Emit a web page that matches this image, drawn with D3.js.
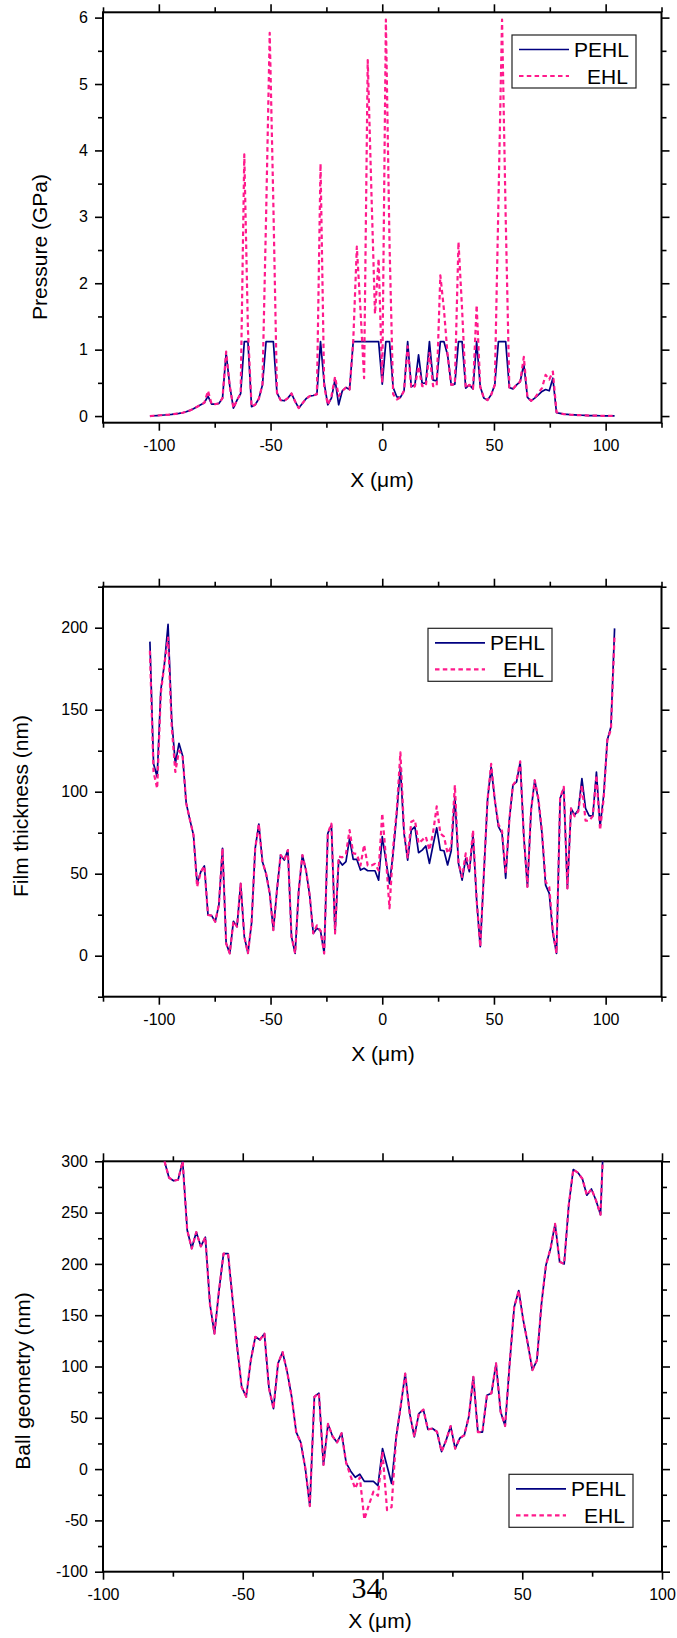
<!DOCTYPE html>
<html>
<head>
<meta charset="utf-8">
<title>PEHL vs EHL profiles</title>
<script src="https://d3js.org/d3.v7.min.js"></script>
<style>
  body { margin: 0; background: #fff; }
  svg text { fill: #000; }
  .sans { font-family: "Liberation Sans", Arial, sans-serif; }
  .serif { font-family: "Liberation Serif", "Times New Roman", "DejaVu Serif", serif; }
</style>
</head>
<body>
<svg id="fig" width="677" height="1638"></svg>
<script>
// x positions (um), shared by all three panels
const xGrid = [
  -104, -102.375, -100.75, -99.125, -97.5, -95.875, -94.25, -92.625, -91, -89.375,
  -87.75, -86.125, -84.5, -82.875, -81.25, -79.625, -78, -76.375, -74.75, -73.125,
  -71.5, -69.875, -68.25, -66.625, -65, -63.375, -61.75, -60.125, -58.5, -56.875,
  -55.25, -53.625, -52, -50.375, -48.75, -47.125, -45.5, -43.875, -42.25, -40.625,
  -39, -37.375, -35.75, -34.125, -32.5, -30.875, -29.25, -27.625, -26, -24.375,
  -22.75, -21.125, -19.5, -17.875, -16.25, -14.625, -13, -11.375, -9.75, -8.125,
  -6.5, -4.875, -3.25, -1.625, 0, 1.625, 3.25, 4.875, 6.5, 8.125,
  9.75, 11.375, 13, 14.625, 16.25, 17.875, 19.5, 21.125, 22.75, 24.375,
  26, 27.625, 29.25, 30.875, 32.5, 34.125, 35.75, 37.375, 39, 40.625,
  42.25, 43.875, 45.5, 47.125, 48.75, 50.375, 52, 53.625, 55.25, 56.875,
  58.5, 60.125, 61.75, 63.375, 65, 66.625, 68.25, 69.875, 71.5, 73.125,
  74.75, 76.375, 78, 79.625, 81.25, 82.875, 84.5, 86.125, 87.75, 89.375,
  91, 92.625, 94.25, 95.875, 97.5, 99.125, 100.75, 102.375, 104
];

// pressure (GPa)
const pressurePEHL = [
  0.000, 0.005, 0.008, 0.012, 0.016, 0.020, 0.025, 0.032, 0.040, 0.050,
  0.065, 0.085, 0.110, 0.140, 0.170, 0.200, 0.300, 0.180, 0.180, 0.190,
  0.270, 0.950, 0.450, 0.120, 0.240, 0.340, 1.120, 1.120, 0.140, 0.170,
  0.260, 0.470, 1.120, 1.120, 1.120, 0.350, 0.240, 0.230, 0.270, 0.340,
  0.220, 0.120, 0.190, 0.260, 0.300, 0.310, 0.330, 1.120, 0.500, 0.170,
  0.270, 0.550, 0.170, 0.380, 0.430, 0.400, 1.120, 1.120, 1.120, 1.120,
  1.120, 1.120, 1.120, 1.120, 0.480, 1.120, 1.120, 0.430, 0.290, 0.280,
  0.380, 1.120, 0.440, 0.470, 0.920, 0.490, 0.500, 1.120, 0.540, 0.530,
  1.120, 1.120, 0.920, 0.470, 0.480, 1.120, 1.120, 0.420, 0.470, 0.410,
  1.120, 0.440, 0.270, 0.240, 0.320, 0.470, 1.120, 1.120, 1.120, 0.430,
  0.410, 0.470, 0.520, 0.780, 0.280, 0.230, 0.270, 0.320, 0.370, 0.400,
  0.380, 0.570, 0.050, 0.040, 0.030, 0.025, 0.020, 0.017, 0.014, 0.012,
  0.010, 0.008, 0.007, 0.006, 0.005, 0.004, 0.003, 0.003, 0.003
];
const pressureEHL = [
  0.000, 0.005, 0.008, 0.012, 0.016, 0.020, 0.025, 0.032, 0.040, 0.050,
  0.065, 0.085, 0.110, 0.140, 0.170, 0.200, 0.380, 0.180, 0.180, 0.190,
  0.270, 0.970, 0.450, 0.120, 0.240, 0.340, 3.940, 1.300, 0.140, 0.170,
  0.260, 0.470, 3.000, 5.770, 3.200, 0.350, 0.240, 0.230, 0.270, 0.340,
  0.220, 0.120, 0.190, 0.260, 0.300, 0.310, 0.330, 3.800, 0.450, 0.170,
  0.300, 0.590, 0.300, 0.380, 0.430, 0.400, 1.120, 2.550, 1.600, 0.570,
  5.360, 3.400, 1.540, 2.370, 0.500, 5.970, 2.600, 0.330, 0.250, 0.280,
  0.380, 1.050, 0.420, 0.450, 0.750, 0.450, 0.450, 0.950, 0.450, 0.450,
  2.120, 1.600, 0.920, 0.470, 0.480, 2.620, 1.600, 0.420, 0.470, 0.410,
  1.670, 0.440, 0.270, 0.240, 0.320, 0.470, 3.200, 5.970, 3.000, 0.430,
  0.410, 0.470, 0.520, 0.890, 0.280, 0.230, 0.270, 0.350, 0.420, 0.620,
  0.550, 0.670, 0.060, 0.040, 0.030, 0.025, 0.020, 0.017, 0.014, 0.012,
  0.010, 0.008, 0.007, 0.006, 0.005, 0.004, 0.003, 0.003, 0.003
];

// film thickness (nm)
const filmPEHL = [
  191.5, 117, 109, 162, 178, 202, 144, 117, 129.5, 122,
  93, 83, 73.6, 44, 51, 54.7, 24.8, 24.4, 20.7, 31,
  65.5, 7.5, 1.4, 21, 17.7, 44, 11.6, 1.5, 19.8, 65.5,
  80.3, 57.3, 50, 38, 15.6, 40, 61.4, 58.3, 64.4, 11.6,
  1.4, 40, 61.4, 52, 37, 13.6, 16.7, 15.2, 1.4, 74.6,
  79.7, 13.6, 58.3, 55.3, 57.3, 71.5, 58.7, 58.7, 52.2, 53.3,
  51.8, 51.8, 51.8, 46.1, 72.6, 58.3, 44, 62.4, 86.8, 115,
  74.6, 58.3, 76.6, 78.7, 62.8, 64.4, 66.9, 56.3, 67.5, 78,
  64.4, 64, 55.3, 64, 97, 56.3, 46.1, 59.3, 51.2, 73.6,
  34, 5.5, 50.2, 95, 115, 95, 78.7, 74.6, 47.2, 82.7,
  104, 106, 118, 72.6, 42, 88.8, 107, 95, 74.6, 43,
  38, 13.6, 1.4, 96, 102, 41, 89.8, 85.8, 88.8, 108,
  89.8, 85.2, 85.2, 112, 78.7, 98, 131.5, 139.6, 199.6
];
const filmEHL = [
  186, 112, 102, 160, 178, 194, 140, 112, 125, 122,
  93, 83, 73.6, 42, 51, 54.7, 24.8, 24.4, 20.7, 31,
  65.5, 7.5, 1.4, 21, 17.7, 44, 11.6, 1.5, 19.8, 65.5,
  80.3, 57.3, 50, 38, 15.6, 40, 61.4, 58.3, 64.4, 11.6,
  1.4, 40, 61.4, 52, 37, 13.6, 18.5, 15.2, 1.4, 74.6,
  80.5, 13.6, 60.4, 60, 62, 76.6, 62.4, 62, 55, 67.5,
  55, 55, 56, 52, 86.8, 60, 28.9, 66, 88.8, 124,
  76, 60, 81.7, 82.7, 68.5, 70.5, 72.6, 64.4, 75, 91,
  74.6, 72.6, 62.4, 66.5, 104, 57, 48, 62.4, 52, 76.6,
  34, 5.5, 50.2, 95, 117, 95, 80, 76, 50, 82.7,
  104, 107, 118.5, 72.6, 42, 88.8, 107, 96, 76, 45,
  42, 15, 1.4, 96, 103, 41, 89.8, 85, 88, 104,
  82.3, 82.3, 85.2, 110, 76.6, 96, 131.5, 138, 196
];

// ball geometry (nm), points 16..113 of xGrid
const ballX = xGrid.slice(16, 114);
const ballPEHL = [
  300, 284, 281, 282, 300, 233, 215, 231, 217, 226,
  161, 132, 174, 210, 210, 165, 119, 80, 70.5, 106,
  129, 126, 132, 79, 59, 103, 114, 95, 70.5, 36,
  26, 1, -36, 70.5, 74, 4, 44, 32, 26, 35,
  6, -2, -8, -5, -12, -12, -12, -16, 20, 3,
  -14, 31, 61, 93, 54, 31.5, 54, 58, 38.7, 39.6,
  36.4, 17, 28, 42, 20, 30, 33, 51, 90, 36,
  36, 72, 74, 103, 56, 42, 103, 158, 174, 145,
  122, 96.5, 106, 161, 199, 215, 239, 202, 200, 257,
  292, 289, 283, 267, 273, 262, 248, 360
];
const ballEHL = [
  300, 284, 281, 282, 300, 233, 215, 231, 217, 226,
  161, 132, 174, 210, 210, 165, 119, 80, 70.5, 106,
  129, 126, 132, 79, 59, 103, 114, 95, 70.5, 36,
  26, 1, -36, 70.5, 74, 4, 44, 32, 26, 35,
  6, -7, -19, -8, -49, -35, -22, -26, 17, -40,
  -37, 31, 61, 93, 54, 31.5, 54, 58, 38.7, 39.6,
  36.4, 17, 28, 42, 20, 30, 33, 51, 90, 36,
  36, 72, 74, 103, 56, 42, 103, 158, 174, 145,
  122, 96.5, 106, 161, 199, 215, 239, 202, 200, 257,
  292, 289, 283, 267, 273, 262, 248, 360
];

// tick values
const xMajorWide = [-100, -50, 0, 50, 100];
const xMinorWide = [-125, -75, -25, 25, 75, 125];
const pressureTicks = [0, 1, 2, 3, 4, 5, 6];
const pressureMinor = [0.5, 1.5, 2.5, 3.5, 4.5, 5.5];
const filmTicks = [0, 50, 100, 150, 200];
const filmMinor = [-25, 25, 75, 125, 175, 225];
const ballXTicks = [-100, -50, 0, 50, 100];
const ballXMinor = [-75, -25, 25, 75];
const ballTicks = [-100, -50, 0, 50, 100, 150, 200, 250, 300];
const ballMinor = [-75, -25, 25, 75, 125, 175, 225, 275];

const seriesNames = ["PEHL", "EHL"];
const navy = "#000080";
const pink = "#ff1a8c";

const svg = d3.select("#fig");

function makeAxis(side, scale) {
  if (side === "bottom") return d3.axisBottom(scale);
  if (side === "top") return d3.axisTop(scale);
  if (side === "left") return d3.axisLeft(scale);
  return d3.axisRight(scale);
}

function drawPanel(p, idx) {
  const g = svg.append("g").attr("class", "sans");
  const x = d3.scaleLinear().domain(p.xDomain).range([p.left, p.right]);
  const y = d3.scaleLinear().domain(p.yDomain).range([p.bottom, p.top]);

  // ticks on all four sides, pointing outward
  const sides = [
    ["bottom", x, p.bottom, p.xMajor, p.xMinor, true],
    ["top", x, p.top, p.xMajor, p.xMinor, false],
    ["left", y, p.left, p.yMajor, p.yMinor, true],
    ["right", y, p.right, p.yMajor, p.yMinor, false]
  ];
  sides.forEach(function(s) {
    const horiz = s[0] === "bottom" || s[0] === "top";
    const tr = horiz ? "translate(0," + s[2] + ")" : "translate(" + s[2] + ",0)";
    const minor = makeAxis(s[0], s[1]).tickValues(s[4]).tickSize(5).tickSizeOuter(0).tickFormat("");
    const major = makeAxis(s[0], s[1]).tickValues(s[3]).tickSize(8).tickSizeOuter(0)
      .tickPadding(horiz ? 9 : 7)
      .tickFormat(s[5] ? function(d) { return String(d); } : "");
    [minor, major].forEach(function(ax) {
      const a = g.append("g").attr("transform", tr).call(ax);
      a.attr("font-family", null).attr("font-size", null);
      a.select(".domain").remove();
      a.selectAll(".tick line").attr("stroke", "#000").attr("stroke-width", 1.6);
      a.selectAll(".tick text").style("font-size", "16px").attr("fill", "#000");
    });
  });

  // frame
  g.append("rect")
    .attr("x", p.left).attr("y", p.top)
    .attr("width", p.right - p.left).attr("height", p.bottom - p.top)
    .attr("fill", "none").attr("stroke", "#000").attr("stroke-width", 2);

  // clip region for the curves
  const clipId = "clip" + idx;
  svg.append("clipPath").attr("id", clipId).append("rect")
    .attr("x", p.left).attr("y", p.top)
    .attr("width", p.right - p.left).attr("height", p.bottom - p.top);

  const line = d3.line().x(function(d) { return x(d[0]); }).y(function(d) { return y(d[1]); });
  const curves = g.append("g").attr("clip-path", "url(#" + clipId + ")");
  curves.append("path").datum(d3.zip(p.xs, p.pehl))
    .attr("d", line).attr("fill", "none").attr("stroke", navy).attr("stroke-width", 1.7)
    .attr("stroke-linejoin", "round");
  curves.append("path").datum(d3.zip(p.xs, p.ehl))
    .attr("d", line).attr("fill", "none").attr("stroke", pink).attr("stroke-width", 2.2)
    .attr("stroke-dasharray", "4.5,3.3").attr("stroke-linejoin", "round");

  // axis titles
  g.append("text").attr("x", p.xTitle[0]).attr("y", p.xTitle[1])
    .attr("text-anchor", "middle").style("font-size", "21px").text("X (\u03bcm)");
  g.append("text")
    .attr("transform", "translate(" + p.yTitle[0] + "," + p.yTitle[1] + ") rotate(-90)")
    .attr("text-anchor", "middle").style("font-size", "21px").text(p.yLabel);

  // legend
  const lg = g.append("g").attr("transform", "translate(" + p.legend[0] + "," + p.legend[1] + ")");
  lg.append("rect").attr("x", 0).attr("y", 0).attr("width", 124).attr("height", 53)
    .attr("fill", "#fff").attr("stroke", "#222").attr("stroke-width", 1.2);
  lg.append("line").attr("x1", 7).attr("x2", 57).attr("y1", 14.5).attr("y2", 14.5)
    .attr("stroke", navy).attr("stroke-width", 1.7);
  lg.append("line").attr("x1", 7).attr("x2", 57).attr("y1", 41).attr("y2", 41)
    .attr("stroke", pink).attr("stroke-width", 2.2).attr("stroke-dasharray", "4.5,3.3");
  lg.append("text").attr("x", 62).attr("y", 22).style("font-size", "21px").text(seriesNames[0]);
  lg.append("text").attr("x", 75).attr("y", 48.5).style("font-size", "21px").text(seriesNames[1]);
}

drawPanel({
  left: 103, right: 661.5, top: 12.3, bottom: 422.7,
  xDomain: [-125, 125], yDomain: [-0.1, 6.08],
  xMajor: xMajorWide, xMinor: xMinorWide, yMajor: pressureTicks, yMinor: pressureMinor,
  xs: xGrid, pehl: pressurePEHL, ehl: pressureEHL,
  yLabel: "Pressure (GPa)", yTitle: [47, 247], xTitle: [382, 486.7],
  legend: [512, 35]
}, 1);

drawPanel({
  left: 103, right: 661.5, top: 586.7, bottom: 996.7,
  xDomain: [-125, 125], yDomain: [-25, 225],
  xMajor: xMajorWide, xMinor: xMinorWide, yMajor: filmTicks, yMinor: filmMinor,
  xs: xGrid, pehl: filmPEHL, ehl: filmEHL,
  yLabel: "Film thickness (nm)", yTitle: [28, 806], xTitle: [383, 1060.5],
  legend: [428, 628.3]
}, 2);

drawPanel({
  left: 103, right: 662, top: 1161.3, bottom: 1571.7,
  xDomain: [-100, 100], yDomain: [-100, 300],
  xMajor: ballXTicks, xMinor: ballXMinor, yMajor: ballTicks, yMinor: ballMinor,
  xs: ballX, pehl: ballPEHL, ehl: ballEHL,
  yLabel: "Ball geometry (nm)", yTitle: [30, 1381], xTitle: [380, 1628],
  legend: [509, 1474.3]
}, 3);

// page number printed over the last panel
svg.append("text").attr("class", "serif").attr("x", 351.5).attr("y", 1598)
  .style("font-size", "30px").text("34");
</script>
</body>
</html>
